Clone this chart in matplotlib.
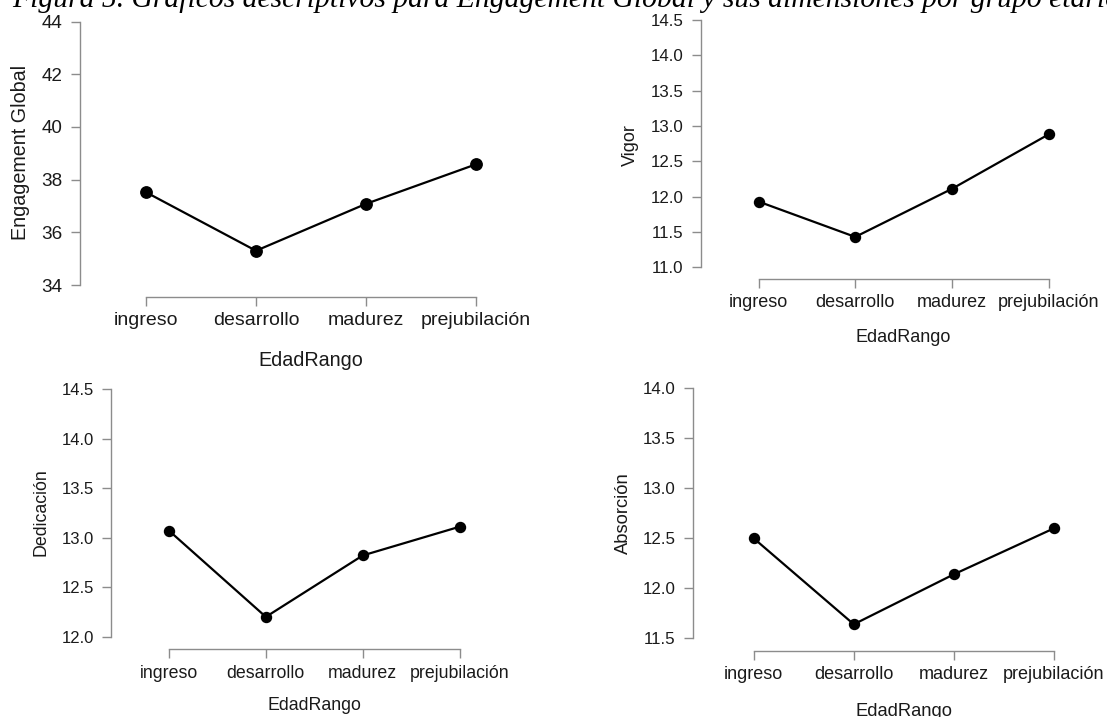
import matplotlib
matplotlib.use("Agg")
import matplotlib.pyplot as plt

plt.rcParams['font.family'] = ['Liberation Sans', 'DejaVu Sans']

W, H = 1107, 717
DPI = 100

grupos = ['ingreso', 'desarrollo', 'madurez', 'prejubilación']

engagement = [37.52, 35.30, 37.08, 38.58]
vigor = [11.93, 11.43, 12.11, 12.88]
dedicacion = [13.07, 12.20, 12.82, 13.11]
absorcion = [12.50, 11.64, 12.14, 12.60]

ticks_eng = [34, 36, 38, 40, 42, 44]
ticks_vig = [11.0, 11.5, 12.0, 12.5, 13.0, 13.5, 14.0, 14.5]
ticks_ded = [12.0, 12.5, 13.0, 13.5, 14.0, 14.5]
ticks_abs = [11.5, 12.0, 12.5, 13.0, 13.5, 14.0]

fig = plt.figure(figsize=(W / DPI, H / DPI), dpi=DPI)
px = 72.0 / DPI  # points per pixel
GREY = '#8c8c8c'
INK = '#1a1a1a'


def panel(vals, yticks, ylabel, fmt, ax_x, cats, y_top, y_bot, xline,
          ytick_fs, xtick_fs, lab_fs, ylab_x, ylab_y, xlab_y, msize):
    # pixel layout: left edge on the y axis line, top/bottom on the end ticks
    cat0, cat3 = cats
    right = cat3 + 40
    ax = fig.add_axes([ax_x / W, 1 - y_bot / H, (right - ax_x) / W, (y_bot - y_top) / H])
    d = (cat3 - cat0) / 3.0
    ax.set_xlim(-(cat0 - ax_x) / d, 3 + (right - cat3) / d)
    ax.set_ylim(yticks[0], yticks[-1])
    ax.plot(range(len(vals)), vals, color='black', lw=1.6, marker='o',
            ms=msize, mfc='black', mec='black', clip_on=False, zorder=3)
    for s in ['top', 'right']:
        ax.spines[s].set_visible(False)
    for s in ['left', 'bottom']:
        ax.spines[s].set_color(GREY)
        ax.spines[s].set_linewidth(1.0)
    ax.spines['left'].set_bounds(yticks[0], yticks[-1])
    ax.spines['bottom'].set_bounds(0, 3)
    ax.spines['bottom'].set_position(('outward', (xline - y_bot) * px))
    ax.set_yticks(yticks)
    ax.set_yticklabels([fmt.format(t) for t in yticks])
    ax.set_xticks(range(len(grupos)))
    ax.set_xticklabels(grupos)
    ax.tick_params(axis='both', color=GREY, length=9 * px, width=1.0, labelcolor=INK)
    ax.tick_params(axis='y', pad=6, labelsize=ytick_fs)
    ax.tick_params(axis='x', pad=4.5, labelsize=xtick_fs)
    ax.patch.set_alpha(0)
    fig.text(ylab_x / W, 1 - ylab_y / H, ylabel, rotation=90, ha='center', va='center',
             fontsize=lab_fs, color=INK)
    fig.text((cat0 + cat3) / 2 / W, 1 - xlab_y / H, 'EdadRango', ha='center', va='center',
             fontsize=lab_fs, color=INK)
    return ax


panel(engagement, ticks_eng, 'Engagement Global', '{:.0f}', 80, (146, 476), 21.5, 285, 296.7,
      13.6, 14.0, 14.2, 21, 152, 360, 8.2)
panel(vigor, ticks_vig, 'Vigor', '{:.1f}', 701, (758.6, 1048.5), 20, 267.3, 279,
      12.2, 13.0, 13.0, 630, 145, 338, 7.2)
panel(dedicacion, ticks_ded, 'Dedicación', '{:.1f}', 111, (169, 459.6), 389, 636.7, 649.3,
      12.0, 12.8, 12.8, 41, 512, 706, 7.2)
panel(absorcion, ticks_abs, 'Absorción', '{:.1f}', 693, (753.7, 1054), 388.3, 638.3, 650.7,
      12.2, 13.0, 13.2, 623, 513, 711, 7.2)

fig.text(12 / W, 1 - 7 / H,
         'Figura 5. Gráficos descriptivos para Engagement Global y sus dimensiones por grupo etario',
         ha='left', va='baseline', fontsize=21.3, style='italic', family='Liberation Serif')

fig.savefig('out.png', dpi=DPI)
